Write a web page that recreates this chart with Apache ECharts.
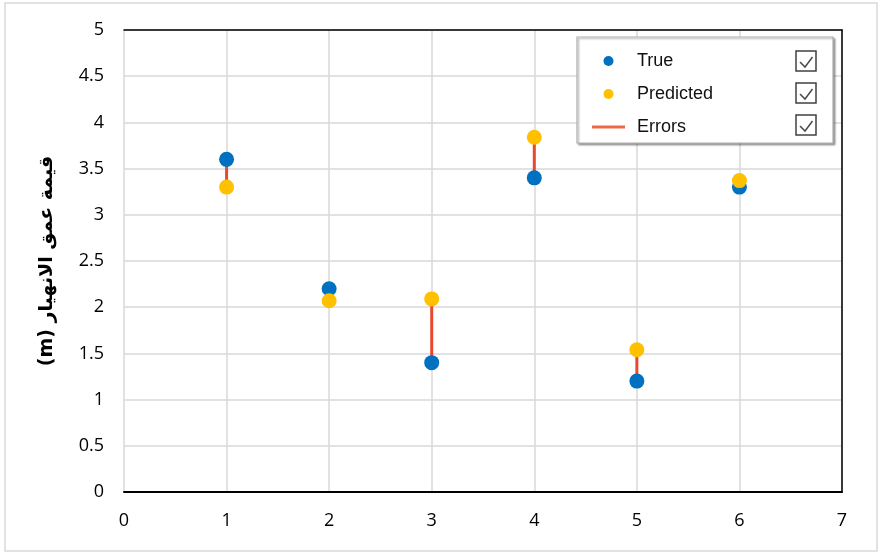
<!DOCTYPE html>
<html>
<head>
<meta charset="utf-8">
<script src="https://cdn.jsdelivr.net/npm/echarts@6/dist/echarts.min.js"></script>
<style>html,body{margin:0;padding:0;background:#fff}#c{width:880px;height:553px}</style>
</head>
<body>
<div id="c"></div>
<script>
var xVals = [1, 2, 3, 4, 5, 6];
var trueVals = [3.6, 2.2, 1.4, 3.4, 1.2, 3.3];
var predVals = [3.3, 2.07, 2.09, 3.84, 1.54, 3.37];
var seriesNames = ['True', 'Predicted', 'Errors'];
var yAxisTitle = '(m) قيمة عمق الانهيار';

var chart = echarts.init(document.getElementById('c'));
var grid = {left: 124, right: 38, top: 30, bottom: 61};
var gridGray = '#D9D9D9';
var tickFont = {fontFamily: 'Open Sans', fontSize: 18, color: '#000'};

function checkbox(top) {
  return [
    {type: 'rect', z: 20, shape: {x: 796, y: top, width: 20, height: 20},
     style: {fill: '#fff', stroke: '#404040', lineWidth: 1.5}},
    {type: 'polyline', z: 21, shape: {points: [[800, top + 11], [805, top + 16], [812.5, top + 6]]},
     style: {stroke: '#4a4a4a', lineWidth: 1.5, fill: null}}
  ];
}

var graphics = [
  {type: 'rect', z: -1, silent: true, shape: {x: 5, y: 3, width: 872, height: 548},
   style: {fill: null, stroke: '#D9D9D9', lineWidth: 1.5}},
  {type: 'rect', z: 10, shape: {x: 577, y: 37, width: 256, height: 106},
   style: {fill: '#fff', stroke: '#AFAFAF', lineWidth: 1.2,
           shadowColor: 'rgba(0,0,0,0.35)', shadowBlur: 2, shadowOffsetX: 1.5, shadowOffsetY: 1.5}}
].concat(checkbox(51), checkbox(83), checkbox(115));

var errData = xVals.map(function (x, i) { return [x, trueVals[i], predVals[i]]; });

chart.setOption({
  animation: false,
  backgroundColor: '#fff',
  grid: grid,
  graphic: graphics,
  legend: {
    orient: 'vertical',
    left: 587, top: 47,
    itemWidth: 33, itemHeight: 10, itemGap: 15,
    z: 30,
    selectedMode: false,
    textStyle: {fontFamily: 'Liberation Sans', fontSize: 18, color: '#111', padding: [0, 0, 0, 7]},
    data: [
      {name: seriesNames[0], icon: 'circle'},
      {name: seriesNames[1], icon: 'circle'},
      {name: seriesNames[2], icon: 'path://M0,0H33V3H0Z', itemStyle: {color: '#EB6B42'}}
    ]
  },
  xAxis: [{
    type: 'value', min: 0, max: 7, interval: 1,
    axisLine: {show: true, onZero: false, lineStyle: {color: '#000', width: 2}},
    axisTick: {show: false},
    splitLine: {show: true, lineStyle: {color: gridGray, width: 1.5}},
    axisLabel: Object.assign({margin: 20}, tickFont)
  }, {
    type: 'value', position: 'top', min: 0, max: 7, interval: 1,
    axisLine: {show: true, onZero: false, lineStyle: {color: '#000', width: 1.5}},
    axisTick: {show: false}, axisLabel: {show: false}, splitLine: {show: false}
  }],
  yAxis: [{
    type: 'value', min: 0, max: 5, interval: 0.5,
    axisLine: {show: false},
    axisTick: {show: false},
    splitLine: {show: true, lineStyle: {color: gridGray, width: 1.5}},
    axisLabel: Object.assign({margin: 20}, tickFont),
    name: yAxisTitle,
    nameLocation: 'middle',
    nameGap: 67,
    nameRotate: 90,
    nameTextStyle: {fontFamily: 'DejaVu Sans', fontWeight: 'bold', fontSize: 19, color: '#000'}
  }, {
    type: 'value', position: 'right', min: 0, max: 5, interval: 0.5,
    axisLine: {show: true, onZero: false, lineStyle: {color: '#000', width: 1.5}},
    axisTick: {show: false}, axisLabel: {show: false}, splitLine: {show: false}
  }],
  series: [{
    name: seriesNames[2],
    type: 'custom',
    z: 3,
    itemStyle: {color: '#E8492F'},
    encode: {x: 0, y: [1, 2]},
    data: errData,
    renderItem: function (params, api) {
      var p1 = api.coord([api.value(0), api.value(1)]);
      var p2 = api.coord([api.value(0), api.value(2)]);
      return {type: 'line', shape: {x1: p1[0], y1: p1[1], x2: p2[0], y2: p2[1]},
              style: {stroke: '#E8492F', lineWidth: 3}};
    }
  }, {
    name: seriesNames[0],
    type: 'scatter', z: 4,
    symbolSize: 15,
    itemStyle: {color: '#0070C0', opacity: 1},
    data: xVals.map(function (x, i) { return [x, trueVals[i]]; })
  }, {
    name: seriesNames[1],
    type: 'scatter', z: 5,
    symbolSize: 15,
    itemStyle: {color: '#FFC000', opacity: 1},
    data: xVals.map(function (x, i) { return [x, predVals[i]]; })
  }]
});
</script>
</body>
</html>
